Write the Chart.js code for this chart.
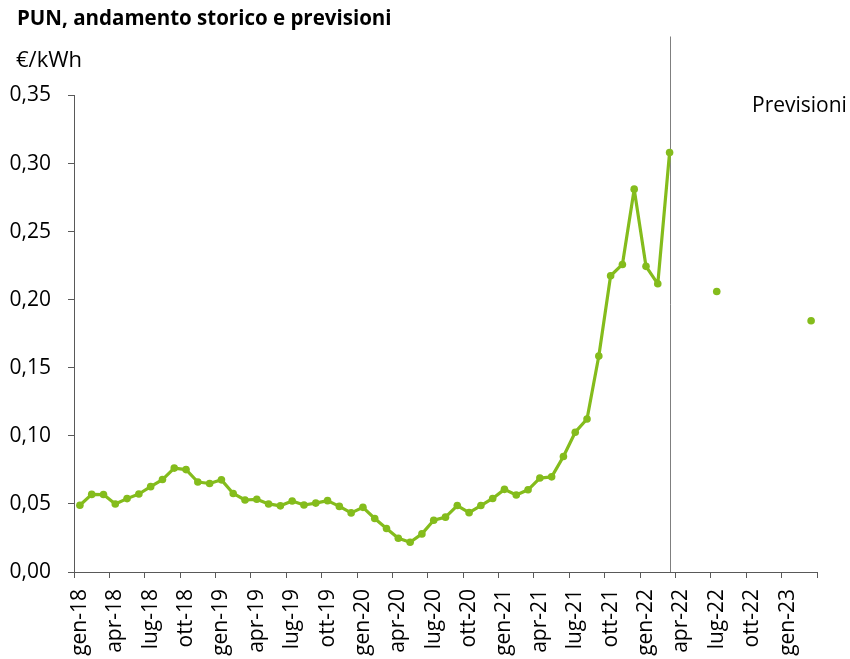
<!DOCTYPE html>
<html>
<head>
<meta charset="utf-8">
<script src="https://cdn.jsdelivr.net/npm/chart.js@4/dist/chart.umd.min.js"></script>
<style>
  html, body { margin: 0; padding: 0; background: #ffffff; }
  #wrap { width: 850px; height: 659px; position: relative; }
</style>
</head>
<body>
<div id="wrap"><canvas id="chart" width="850" height="659"></canvas></div>
<script>
// PUN monthly average (€/kWh), gen-18 .. mar-22
const historyMonths = [
  'gen-18','feb-18','mar-18','apr-18','mag-18','giu-18','lug-18','ago-18','set-18','ott-18','nov-18','dic-18',
  'gen-19','feb-19','mar-19','apr-19','mag-19','giu-19','lug-19','ago-19','set-19','ott-19','nov-19','dic-19',
  'gen-20','feb-20','mar-20','apr-20','mag-20','giu-20','lug-20','ago-20','set-20','ott-20','nov-20','dic-20',
  'gen-21','feb-21','mar-21','apr-21','mag-21','giu-21','lug-21','ago-21','set-21','ott-21','nov-21','dic-21',
  'gen-22','feb-22','mar-22'
];
const historyValues = [
  0.0490, 0.0570, 0.0569, 0.0500, 0.0539, 0.0573, 0.0627, 0.0679, 0.0763, 0.0752, 0.0661, 0.0650,
  0.0677, 0.0577, 0.0529, 0.0534, 0.0500, 0.0486, 0.0522, 0.0492, 0.0506, 0.0524, 0.0482, 0.0434,
  0.0475, 0.0393, 0.0320, 0.0248, 0.0218, 0.0280, 0.0380, 0.0403, 0.0488, 0.0436, 0.0488, 0.0540,
  0.0607, 0.0566, 0.0604, 0.0690, 0.0699, 0.0848, 0.1027, 0.1124, 0.1586, 0.2176, 0.2259, 0.2812,
  0.2245, 0.2117, 0.3081
];

// Forecasts
const forecastMonths = ['lug-22', 'mar-23'];
const forecastValues = [0.2060, 0.1845];

// Axis labels
const xTickLabels = [
  'gen-18','apr-18','lug-18','ott-18','gen-19','apr-19','lug-19','ott-19',
  'gen-20','apr-20','lug-20','ott-20','gen-21','apr-21','lug-21','ott-21',
  'gen-22','apr-22','lug-22','ott-22','gen-23'
];
const yTickValues = [0, 0.05, 0.10, 0.15, 0.20, 0.25, 0.30, 0.35];

const titleText = 'PUN, andamento storico e previsioni';
const unitText = '€/kWh';
const forecastText = 'Previsioni';
const lastHistoryMonth = 'mar-22';

const MONTH_ABBR = ['gen','feb','mar','apr','mag','giu','lug','ago','set','ott','nov','dic'];
const FIRST_YEAR = 18;
const AXIS_MONTHS = 63;

// month label -> position on the time axis (centre of the month slot)
function monthPos(label) {
  const [m, y] = label.split('-');
  return (parseInt(y, 10) - FIRST_YEAR) * 12 + MONTH_ABBR.indexOf(m) + 0.5;
}

const GREEN = '#84bc1c';
const AXIS = '#595959';
const FONT = '"Open Sans", "DejaVu Sans", sans-serif';

const historyPoints = historyMonths.map((m, i) => ({ x: monthPos(m), y: historyValues[i] }));
const forecastPoints = forecastMonths.map((m, i) => ({ x: monthPos(m), y: forecastValues[i] }));

const annotations = {
  id: 'annotations',
  beforeDatasetsDraw(chart) {
    const { ctx, chartArea, scales } = chart;
    ctx.save();
    const lx = Math.round(scales.x.getPixelForValue(monthPos(lastHistoryMonth))) + 0.5;
    ctx.strokeStyle = '#7f7f7f';
    ctx.lineWidth = 1;
    ctx.beginPath();
    ctx.moveTo(lx, chartArea.top - 59);
    ctx.lineTo(lx, chartArea.bottom);
    ctx.stroke();
    ctx.restore();
  },
  afterDraw(chart) {
    const { ctx } = chart;
    ctx.save();
    ctx.fillStyle = '#000000';
    ctx.textBaseline = 'alphabetic';
    ctx.textAlign = 'left';
    ctx.font = 'bold 20.5px ' + FONT;
    ctx.fillText(titleText, 17, 25);
    ctx.font = '22px ' + FONT;
    ctx.fillText(unitText, 16, 67);
    ctx.font = '21px ' + FONT;
    ctx.fillText(forecastText, 752, 112);
    ctx.restore();
  }
};

new Chart(document.getElementById('chart'), {
  type: 'line',
  data: {
    datasets: [
      {
        label: 'PUN',
        data: historyPoints,
        borderColor: GREEN,
        backgroundColor: GREEN,
        borderWidth: 3.2,
        pointRadius: 3.8,
        pointHoverRadius: 3.8,
        pointBackgroundColor: GREEN,
        pointBorderWidth: 0,
        tension: 0,
        borderJoinStyle: 'round',
        fill: false
      },
      {
        label: 'Previsioni',
        data: forecastPoints,
        showLine: false,
        borderColor: GREEN,
        backgroundColor: GREEN,
        pointRadius: 3.8,
        pointHoverRadius: 3.8,
        pointBackgroundColor: GREEN,
        pointBorderWidth: 0
      }
    ]
  },
  options: {
    responsive: false,
    animation: false,
    devicePixelRatio: 1,
    layout: { padding: { top: 95.5, right: 33, left: 0, bottom: 0 } },
    plugins: {
      legend: { display: false },
      title: { display: false },
      tooltip: { enabled: false }
    },
    scales: {
      x: {
        type: 'linear',
        position: 'bottom',
        min: 0,
        max: AXIS_MONTHS,
        afterFit(scale) {
          scale.height = 87;
          scale.paddingLeft = 0;
          scale.paddingRight = 0;
        },
        grid: { drawOnChartArea: false, drawTicks: true, tickLength: 6, color: AXIS, lineWidth: 1 },
        border: { display: true, color: AXIS, width: 1 },
        ticks: {
          stepSize: 3,
          autoSkip: false,
          minRotation: 90,
          maxRotation: 90,
          labelOffset: 5.9,
          padding: 11,
          color: '#000000',
          font: { family: FONT, size: 21 },
          callback: (v) => (v % 3 === 0 && xTickLabels[v / 3]) ? xTickLabels[v / 3] : ''
        }
      },
      y: {
        min: 0,
        max: 0.35,
        afterFit(scale) {
          scale.width = 74;
          scale.paddingTop = 0;
          scale.paddingBottom = 0;
        },
        afterBuildTicks(scale) { scale.ticks = yTickValues.map(v => ({ value: v })); },
        grid: { drawOnChartArea: false, drawTicks: true, tickLength: 6, color: AXIS, lineWidth: 1 },
        border: { display: true, color: AXIS, width: 1 },
        ticks: {
          padding: 17,
          color: '#000000',
          font: { family: FONT, size: 21 },
          callback: (v) => v.toFixed(2).replace('.', ',')
        }
      }
    }
  },
  plugins: [annotations]
});
</script>
</body>
</html>
